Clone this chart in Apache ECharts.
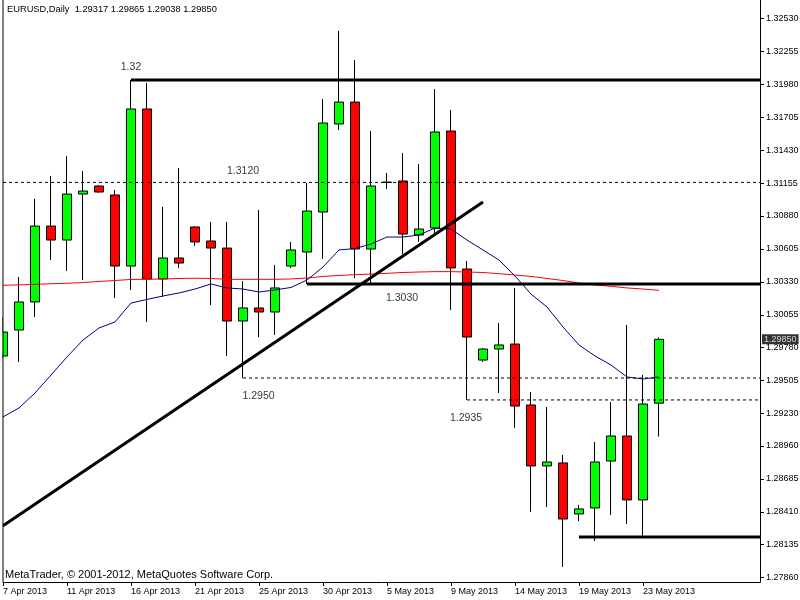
<!DOCTYPE html>
<html><head><meta charset="utf-8">
<script src="https://cdn.jsdelivr.net/npm/echarts@6/dist/echarts.min.js"></script>
<style>html,body{margin:0;padding:0;background:#fff}#c{width:800px;height:600px}</style>
</head><body><div id="c"></div>
<script>
// ---------------- DATA ----------------
const symbolName = 'EURUSD';
const timeframe = 'Daily';
const dates = ['7 Apr 2013','8 Apr 2013','9 Apr 2013','10 Apr 2013','11 Apr 2013','12 Apr 2013',
 '14 Apr 2013','15 Apr 2013','16 Apr 2013','17 Apr 2013','18 Apr 2013','19 Apr 2013',
 '21 Apr 2013','22 Apr 2013','23 Apr 2013','24 Apr 2013','25 Apr 2013','26 Apr 2013',
 '28 Apr 2013','29 Apr 2013','30 Apr 2013','1 May 2013','2 May 2013','3 May 2013',
 '5 May 2013','6 May 2013','7 May 2013','8 May 2013','9 May 2013','10 May 2013',
 '12 May 2013','13 May 2013','14 May 2013','15 May 2013','16 May 2013','17 May 2013',
 '19 May 2013','20 May 2013','21 May 2013','22 May 2013','23 May 2013','24 May 2013'];
const open  = [1.29711,1.29928,1.30162,1.30796,1.30679,1.31063,1.31130,1.31055,1.30462,1.31773,1.30354,1.30529,
 1.30788,1.30671,1.30612,1.30003,1.30112,1.30078,1.30462,1.30579,1.30913,1.31648,1.31831,1.30604,
 1.31159,1.31172,1.30721,1.30779,1.31589,1.30437,1.29677,1.29769,1.29811,1.29302,1.28793,1.28818,
 1.28392,1.28442,1.28834,1.29043,1.28509,1.29317];
const high  = [1.30036,1.30370,1.31022,1.31214,1.31380,1.31255,1.31138,1.31097,1.32015,1.31990,1.30955,1.31280,
 1.30795,1.30830,1.30830,1.30337,1.30930,1.30471,1.30663,1.31155,1.31856,1.32424,1.32182,1.31589,
 1.31239,1.31406,1.31314,1.31940,1.31764,1.30504,1.29778,1.29986,1.30279,1.29410,1.29285,1.28884,
 1.28467,1.28993,1.29327,1.29970,1.29552,1.29865];
const low   = [1.29694,1.29661,1.30036,1.30512,1.30420,1.30345,1.31075,1.30195,1.30262,1.29995,1.30203,1.30446,
 1.30629,1.30137,1.29711,1.29527,1.29869,1.29886,1.30446,1.30312,1.30521,1.31598,1.30362,1.30320,
 1.31105,1.30562,1.30663,1.30738,1.30095,1.29344,1.29661,1.29402,1.29110,1.28409,1.28450,1.27949,
 1.28333,1.28167,1.28384,1.28308,1.28200,1.29038];
const close = [1.29911,1.30162,1.30796,1.30679,1.31063,1.31088,1.31080,1.30462,1.31773,1.30354,1.30529,1.30487,
 1.30663,1.30612,1.30003,1.30112,1.30078,1.30279,1.30596,1.30921,1.31656,1.31831,1.30604,1.31130,
 1.31163,1.30729,1.30771,1.31581,1.30446,1.29869,1.29769,1.29803,1.29293,1.28793,1.28826,1.28350,
 1.28434,1.28826,1.29043,1.28509,1.29310,1.29850];
const maFast = [1.29202,1.29277,1.29402,1.29552,1.29703,1.29844,1.29945,1.29995,1.30153,1.30183,1.30212,1.30237,
 1.30270,1.30312,1.30279,1.30270,1.30245,1.30262,1.30283,1.30345,1.30454,1.30596,1.30608,1.30646,
 1.30704,1.30704,1.30721,1.30779,1.30771,1.30679,1.30596,1.30512,1.30379,1.30228,1.30120,1.29953,
 1.29803,1.29711,1.29636,1.29536,1.29519,1.29536];
const maSlow = [1.30301,1.30305,1.30309,1.30314,1.30318,1.30324,1.30333,1.30341,1.30350,1.30351,1.30354,1.30358,
 1.30360,1.30358,1.30351,1.30351,1.30351,1.30351,1.30354,1.30362,1.30375,1.30383,1.30390,1.30395,
 1.30401,1.30408,1.30412,1.30415,1.30415,1.30412,1.30408,1.30398,1.30387,1.30375,1.30358,1.30341,
 1.30320,1.30304,1.30293,1.30279,1.30270,1.30259];
const priceTicks = [1.32530,1.32255,1.31980,1.31705,1.31430,1.31155,1.30880,1.30605,1.30330,
 1.30055,1.29780,1.29505,1.29230,1.28960,1.28685,1.28410,1.28135,1.27860];
const dateTickBars = [0,4,8,12,16,20,24,28,32,36,40];
// drawn objects: horizontal levels (price, starting bar), trend line, text notes
const solidLevelPrice = [1.32015, 1.30312, 1.28200];
const solidLevelFrom  = [8, 19, 36];
const dotLevelPrice   = [1.31160, 1.29527, 1.29344];
const dotLevelFrom    = [0, 15, 29];
const trendBars   = [0, 30];
const trendPrices = [1.28293, 1.30996];
const noteText  = ['1.32','1.3120','1.3030','1.2950','1.2935'];
const noteBar   = [8, 15, 24.94, 15.97, 28.94];
const notePrice = [1.32124, 1.31255, 1.30195, 1.29377, 1.29193];
const copyright = 'MetaTrader, \u00A9 2001-2012, MetaQuotes Software Corp.';

// ---------------- LAYOUT ----------------
const GL = 3, GR = 40, GT = 0, GB = 18, BAR_PX = 16;
const xMax = (800 - GL - GR) / BAR_PX;
const yMin = 1.27824, yMax = 1.32683;
const FONT = 'Liberation Sans, Arial, sans-serif';
const last = close.length - 1;
const fmt = v => v.toFixed(5);

const candleData = dates.map((d, i) => [i, open[i], close[i], low[i], high[i]]);

const series = [];
series.push({
  type: 'candlestick', name: symbolName, data: candleData, clip: true,
  encode: { x: 0, y: [1, 2, 3, 4] }, barWidth: 10, z: 2,
  itemStyle: { color: '#00ff00', color0: '#ff0000', borderColor: '#000', borderColor0: '#000', borderWidth: 1 }
});
series.push({ type: 'line', data: dates.map((d, i) => [i, maSlow[i]]), showSymbol: false, z: 3,
  lineStyle: { color: '#ff0000', width: 1 }, silent: true });
series.push({ type: 'line', data: dates.map((d, i) => [i, maFast[i]]), showSymbol: false, z: 3,
  lineStyle: { color: '#000080', width: 1 }, silent: true });
solidLevelPrice.forEach((p, k) => series.push({ type: 'line', showSymbol: false, z: 4, silent: true,
  data: [[solidLevelFrom[k], p], [xMax, p]], lineStyle: { color: '#000', width: 3 } }));
dotLevelPrice.forEach((p, k) => series.push({ type: 'line', showSymbol: false, z: 4, silent: true,
  data: [[dotLevelFrom[k], p], [xMax, p]], lineStyle: { color: '#000', width: 1, type: [3, 3] } }));
series.push({ type: 'line', showSymbol: false, z: 4, silent: true,
  data: trendBars.map((b, k) => [b, trendPrices[k]]), lineStyle: { color: '#000', width: 3 } });
series.push({ type: 'scatter', symbolSize: 0, z: 5, silent: true,
  data: noteText.map((t, k) => ({ value: [noteBar[k], notePrice[k]], name: t })),
  label: { show: true, position: 'inside', formatter: p => p.name, color: '#000', fontSize: 10.5, fontFamily: FONT } });
// current price tag on the price axis
series.push({ type: 'scatter', symbolSize: 0, z: 20, zlevel: 1, silent: true, clip: false,
  data: [[xMax, close[last]]],
  label: { show: true, position: 'right', distance: 2, formatter: () => fmt(close[last]),
    backgroundColor: '#000', color: '#fff', fontSize: 9, fontFamily: FONT, padding: [1, 2, 0, 2], lineHeight: 9 } });

const option = {
  animation: false,
  backgroundColor: '#fff',
  title: { text: `${symbolName},${timeframe}  ${fmt(open[last])} ${fmt(high[last])} ${fmt(low[last])} ${fmt(close[last])}`,
    left: 7, top: 5, padding: 0,
    textStyle: { fontSize: 9.3, fontWeight: 'normal', color: '#000', fontFamily: FONT } },
  graphic: [
    { type: 'rect', shape: { x: 0, y: 0, width: 2.5, height: 582 }, style: { fill: '#fff' }, z: 50, silent: true },
    { type: 'line', shape: { x1: 3, y1: 0, x2: 3, y2: 582 }, style: { stroke: '#000', lineWidth: 1 }, z: 51, silent: true },
    { type: 'text', left: 5, top: 569, z: 10,
      style: { text: copyright, fontSize: 11, fill: '#000', fontFamily: FONT } }
  ],
  grid: { left: GL, right: GR, top: GT, bottom: GB, show: false, containLabel: false, outerBoundsMode: 'none' },
  xAxis: { type: 'value', min: 0, max: xMax, splitLine: { show: false },
    axisLine: { show: true, onZero: false, lineStyle: { color: '#000', width: 1 } },
    axisTick: { show: true, customValues: dateTickBars, length: 4, lineStyle: { color: '#000' } },
    axisLabel: { show: true, customValues: dateTickBars, formatter: v => dates[Math.round(v)] || '',
      align: 'left', margin: 5, color: '#000', fontSize: 9, fontFamily: FONT, showMinLabel: true } },
  yAxis: [
    { type: 'value', position: 'right', min: yMin, max: yMax, scale: true, splitLine: { show: false },
      axisLine: { show: true, onZero: false, lineStyle: { color: '#000', width: 1 } },
      axisTick: { show: true, customValues: priceTicks, length: 4, lineStyle: { color: '#000' } },
      axisLabel: { show: true, customValues: priceTicks, formatter: v => fmt(v), margin: 6,
        color: '#000', fontSize: 9, fontFamily: FONT } },
    { type: 'value', position: 'left', min: yMin, max: yMax, scale: true, splitLine: { show: false },
      axisLine: { show: false }, axisTick: { show: false }, axisLabel: { show: false } }
  ],
  series: series
};
const chart = echarts.init(document.getElementById('c'), null, { renderer: 'canvas' });
chart.setOption(option);
</script></body></html>
